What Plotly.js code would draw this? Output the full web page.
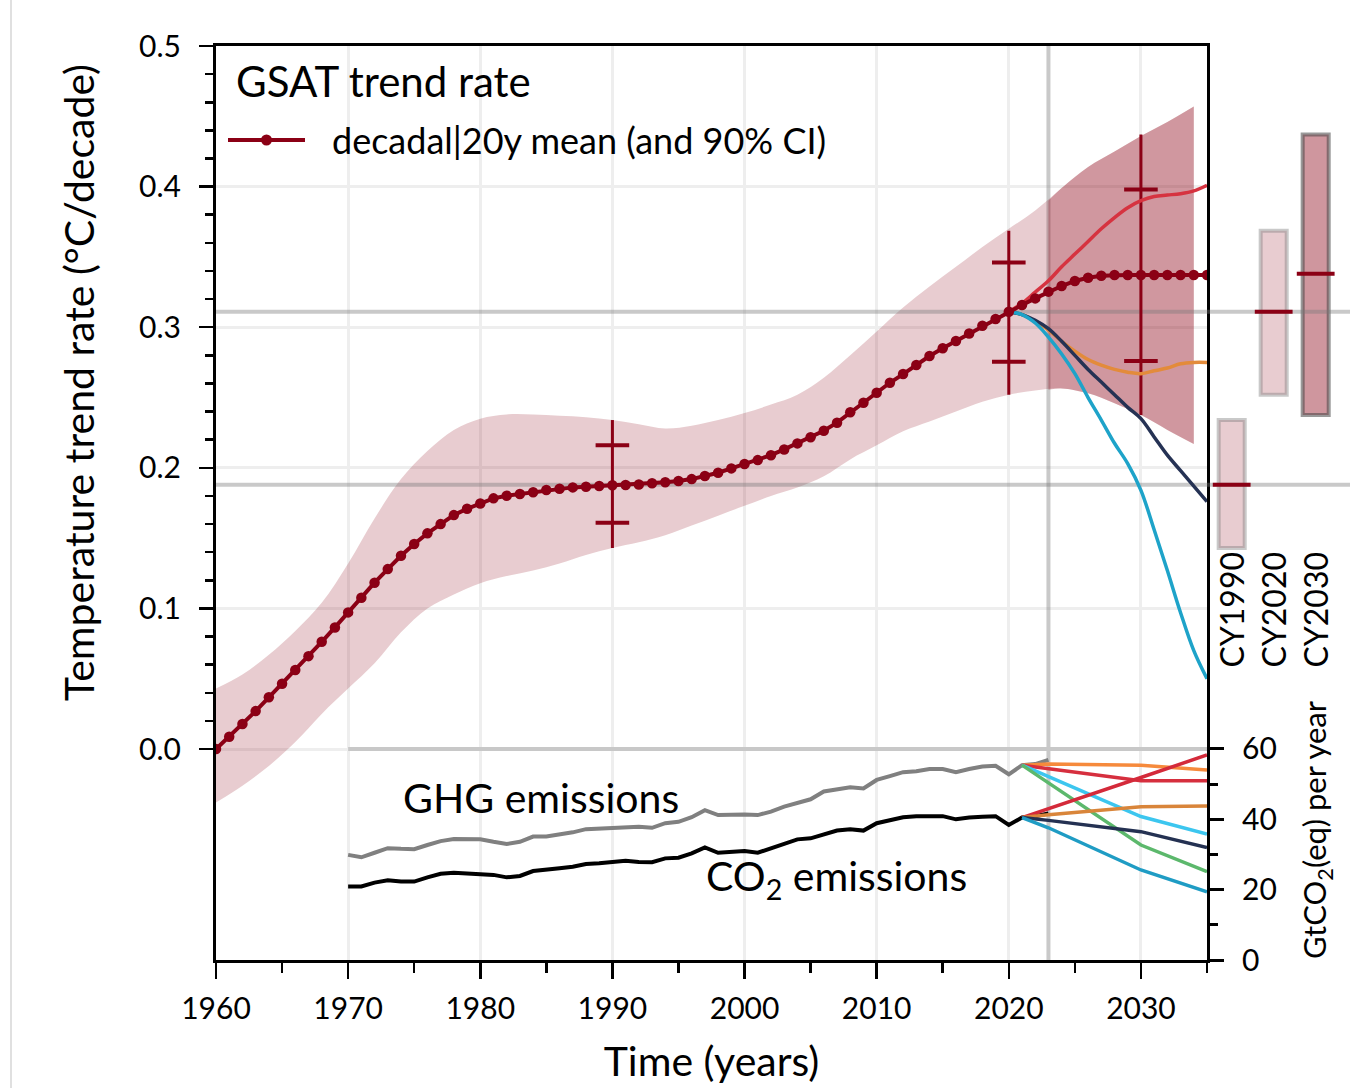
<!DOCTYPE html>
<html><head><meta charset="utf-8">
<script src="https://cdn.plot.ly/plotly-3.0.1.min.js"></script>
<style>html,body{margin:0;padding:0;background:#fff}#chart{width:1350px;height:1088px}</style>
</head><body><div id="chart"></div>
<script>
// ---------- DATA ----------
const meanYears = [1960,1961,1962,1963,1964,1965,1966,1967,1968,1969,1970,1971,1972,1973,1974,1975,1976,1977,1978,1979,
  1980,1981,1982,1983,1984,1985,1986,1987,1988,1989,1990,1991,1992,1993,1994,1995,1996,1997,1998,1999,
  2000,2001,2002,2003,2004,2005,2006,2007,2008,2009,2010,2011,2012,2013,2014,2015,2016,2017,2018,2019,
  2020,2021,2022,2023,2024,2025,2026,2027,2028,2029,2030,2031,2032,2033,2034,2035];
const meanRate = [0.000,0.0088,0.0178,0.0270,0.0368,0.0465,0.0562,0.0661,0.0763,0.0865,0.0972,0.1076,0.1183,0.1280,0.1375,0.1458,0.1534,0.1600,0.1664,0.1709,
  0.1747,0.1783,0.1802,0.1814,0.1826,0.1842,0.1851,0.1861,0.1866,0.1871,0.1876,0.1878,0.1882,0.1890,0.1897,0.1906,0.1920,0.1942,0.1965,0.1996,
  0.2027,0.2055,0.2090,0.2131,0.2174,0.2217,0.2264,0.2321,0.2395,0.2463,0.2534,0.2605,0.2667,0.2731,0.2795,0.2850,0.2902,0.2956,0.3010,0.3058,
  0.3110,0.3158,0.3205,0.3253,0.3293,0.3329,0.3352,0.3366,0.3371,0.3371,0.3371,0.3371,0.3371,0.3371,0.3371,0.3371];

const bandYears = [1960,1962,1964,1966,1968,1970,1972,1974,1976,1978,1980,1982,1984,1986,1988,1990,1992,1994,1996,1998,
  2000,2002,2004,2006,2008,2010,2012,2014,2016,2018,2020,2022,2024,2026,2028,2030,2032,2034];
const bandUpper = [0.043,0.053,0.067,0.084,0.104,0.132,0.164,0.192,0.212,0.227,0.235,0.238,0.238,0.237,0.236,0.234,0.231,0.228,0.230,0.234,
  0.239,0.245,0.252,0.264,0.280,0.297,0.314,0.329,0.343,0.357,0.370,0.383,0.399,0.414,0.425,0.436,0.446,0.457];
const bandLower = [-0.038,-0.026,-0.012,0.005,0.025,0.043,0.061,0.083,0.100,0.110,0.118,0.123,0.127,0.132,0.138,0.143,0.147,0.152,0.159,0.166,
  0.173,0.180,0.186,0.194,0.206,0.216,0.226,0.233,0.240,0.247,0.252,0.255,0.2565,0.253,0.246,0.2375,0.227,0.217];

const projYears = [2023,2024,2026,2028,2030,2032,2034];
const projUpper = [0.390,0.399,0.414,0.425,0.436,0.446,0.457];
const projLower = [0.2555,0.2565,0.253,0.246,0.2375,0.227,0.217];

const ciYears = [1990,2020,2030];
const ciLow = [0.143,0.252,0.2375];
const ciHigh = [0.234,0.3686,0.437];
const capLow = [0.161,0.2755,0.276];
const capHigh = [0.216,0.346,0.398];

const scenYears = [2020,2021,2022,2023,2024,2025,2026,2027,2028,2029,2030,2031,2032,2033,2034,2035];
const scenRed    = [0.311,0.317,0.325,0.333,0.343,0.352,0.361,0.370,0.378,0.385,0.390,0.393,0.394,0.395,0.397,0.401];
const scenOrange = [0.311,0.309,0.304,0.298,0.290,0.283,0.277,0.273,0.270,0.268,0.267,0.269,0.271,0.274,0.275,0.275];
const scenNavy   = [0.311,0.309,0.305,0.299,0.290,0.280,0.270,0.261,0.252,0.243,0.235,0.222,0.209,0.198,0.187,0.176];
const scenCyan   = [0.311,0.309,0.303,0.293,0.281,0.267,0.250,0.234,0.2175,0.203,0.184,0.156,0.127,0.097,0.070,0.050];

const emisYears = [1970,1971,1972,1973,1974,1975,1976,1977,1978,1979,1980,1981,1982,1983,1984,1985,1986,1987,1988,1989,
  1990,1991,1992,1993,1994,1995,1996,1997,1998,1999,2000,2001,2002,2003,2004,2005,2006,2007,2008,2009,
  2010,2011,2012,2013,2014,2015,2016,2017,2018,2019,2020,2021,2022,2023];
const ghgEmis = [29.9,29.2,30.5,31.8,31.6,31.5,32.7,33.8,34.4,34.4,34.3,33.6,33.0,33.6,35.1,35.1,35.7,36.3,37.2,37.4,
  37.7,37.9,37.9,37.6,38.9,39.3,40.6,42.6,41.2,41.3,41.4,41.2,42.2,43.6,44.7,45.7,47.9,48.5,49.1,48.8,
  51.2,52.3,53.4,53.7,54.3,54.3,53.4,54.3,55.0,55.2,52.8,55.4,55.7,56.9];
const co2Emis = [20.9,20.9,22.0,22.7,22.3,22.3,23.5,24.5,24.8,24.6,24.6,24.2,23.5,23.9,25.3,25.6,26.1,26.5,27.3,27.5,
  27.8,28.2,27.9,27.8,28.9,29.1,30.3,32.0,30.5,30.8,31.0,30.5,31.8,33.0,34.3,34.6,35.8,36.8,37.2,36.8,
  38.9,39.8,40.6,40.9,41.0,40.9,40.0,40.5,40.7,40.9,38.4,40.5,40.9,41.7];

const emisScenYears = [2021,2023,2030,2035];
const ghgScenOrange = [55.4,55.7,55.4,54.0];
const ghgScenRed    = [55.4,54.4,51.0,51.0];
const ghgScenSky    = [55.4,52.2,40.8,35.8];
const ghgScenGreen  = [55.4,50.3,32.7,25.1];
const co2ScenRed    = [40.5,43.0,51.9,58.3];
const co2ScenOrange = [40.5,41.3,43.6,43.8];
const co2ScenNavy   = [40.5,39.7,36.5,32.0];
const co2ScenTeal   = [40.5,37.6,25.6,19.4];

const cyLabels = ['CY1990','CY2020','CY2030'];
const cyPos = [0,1,2];
const cyLow = [0.143,0.252,0.2375];
const cyHigh = [0.234,0.3686,0.437];
const cyMid = [0.188,0.311,0.338];

const refLevels = [0.188,0.311];
const projectionStart = 2023;
const emisRefYears = [1970,2035];
const emisRefLevel = 60;

const yTicks = [0,0.1,0.2,0.3,0.4,0.5];
const emisTicks = [0,20,40,60];
const emisMinor = [10,30,50];

// ---------- STYLE ----------
const DARK = '#8b0015';
const XR = [1960,2035], YR = [-0.15,0.5];
const X2R = [-0.588,2.817];
const D = 991/1134;
const E3 = [0,73.93];

const yMinor = [];
for (let i=1;i<25;i++){ if(i%5!==0) yMinor.push(+(i*0.02).toFixed(2)); }

const traces = [];
traces.push({x:[projectionStart,projectionStart], y:YR, mode:'lines', line:{color:'rgba(120,120,120,0.4)', width:4}, hoverinfo:'skip'});
traces.push({x:bandYears, y:bandLower, mode:'lines', line:{width:0, shape:'spline'}, hoverinfo:'skip'});
traces.push({x:bandYears, y:bandUpper, mode:'lines', line:{width:0, shape:'spline'}, fill:'tonexty', fillcolor:'rgba(139,0,19,0.2)', hoverinfo:'skip'});
traces.push({x:projYears, y:projLower, mode:'lines', line:{width:0, shape:'spline'}, hoverinfo:'skip'});
traces.push({x:projYears, y:projUpper, mode:'lines', line:{width:0, shape:'spline'}, fill:'tonexty', fillcolor:'rgba(139,0,19,0.26)', hoverinfo:'skip'});
refLevels.forEach(v=>traces.push({x:XR, y:[v,v], mode:'lines', line:{color:'rgba(120,120,120,0.4)', width:4}, hoverinfo:'skip'}));
const wx=[], wy=[];
ciYears.forEach((yr,i)=>{wx.push(yr,yr,null); wy.push(ciLow[i],ciHigh[i],null);});
traces.push({x:wx, y:wy, mode:'lines', line:{color:DARK, width:3}, hoverinfo:'skip'});
traces.push({x:ciYears.concat(ciYears), y:capLow.concat(capHigh), mode:'markers',
  marker:{symbol:'line-ew', size:24, color:DARK, line:{color:DARK, width:4}}, hoverinfo:'skip'});
[[scenOrange,'#e38b3b'],[scenRed,'#d63340'],[scenNavy,'#253254'],[scenCyan,'#1ea3c9']].forEach(s=>{
  traces.push({x:scenYears, y:s[0], mode:'lines', line:{color:s[1], width:3.5, shape:'spline'}, hoverinfo:'skip'});
});
traces.push({x:meanYears, y:meanRate, mode:'lines+markers', line:{color:DARK, width:4}, marker:{color:DARK, size:10.5}});

traces.push({x:emisRefYears, y:[emisRefLevel,emisRefLevel], yaxis:'y3', mode:'lines', line:{color:'#c8c8c8', width:4}, hoverinfo:'skip'});
traces.push({x:emisYears, y:ghgEmis, yaxis:'y3', mode:'lines', line:{color:'#808080', width:4}});
traces.push({x:emisYears, y:co2Emis, yaxis:'y3', mode:'lines', line:{color:'#000000', width:4}});
[[ghgScenOrange,'#f68a3c'],[ghgScenRed,'#d62f3e'],[ghgScenSky,'#3cc6ef'],[ghgScenGreen,'#5cb86c'],
 [co2ScenRed,'#d42a3a'],[co2ScenOrange,'#d9853a'],[co2ScenNavy,'#243152'],[co2ScenTeal,'#1f9cc4']].forEach(s=>{
  traces.push({x:emisScenYears, y:s[0], yaxis:'y3', mode:'lines', line:{color:s[1], width:3.5}});
});

refLevels.forEach(v=>traces.push({x:X2R, y:[v,v], xaxis:'x2', yaxis:'y2', mode:'lines', line:{color:'rgba(120,120,120,0.4)', width:4}, hoverinfo:'skip'}));
traces.push({type:'bar', x:cyPos, y:cyHigh.map((h,i)=>h-cyLow[i]), base:cyLow, xaxis:'x2', yaxis:'y2', width:0.62,
  marker:{color:['rgba(139,0,19,0.2)','rgba(139,0,19,0.2)','rgba(139,0,19,0.41)'],
          line:{color:['rgba(120,120,120,0.4)','rgba(120,120,120,0.4)','rgba(70,70,70,0.55)'], width:4}}});
traces.push({x:cyPos, y:cyMid, xaxis:'x2', yaxis:'y2', mode:'markers',
  marker:{symbol:'line-ew', size:27, color:DARK, line:{color:DARK, width:4}}});

const px = p => (p-216)/1134;
const py = p => (960-p)/914;

const annotations = [
  {text:'GSAT trend rate', xref:'paper', yref:'paper', x:px(234), y:py(81), xanchor:'left', yanchor:'middle', showarrow:false, font:{size:42}},
  {text:'decadal|20y mean (and 90% CI)', xref:'paper', yref:'paper', x:px(330), y:py(140), xanchor:'left', yanchor:'middle', showarrow:false, font:{size:36}},
  {text:'Temperature trend rate (°C/decade)', xref:'paper', yref:'paper', x:px(78), y:py(383), textangle:-90, xanchor:'center', yanchor:'middle', showarrow:false, font:{size:41}},
  {text:'GHG emissions', xref:'x', yref:'y3', x:1974.0, y:46.1, xanchor:'left', yanchor:'middle', showarrow:false, font:{size:41}},
  {text:'CO<sub>2</sub> emissions', xref:'x', yref:'y3', x:1996.9, y:23.3, xanchor:'left', yanchor:'middle', showarrow:false, font:{size:41}}
];
cyLabels.forEach((t,i)=>annotations.push({text:t, xref:'x2', yref:'y2', x:cyPos[i], y:0.099, textangle:-90, xanchor:'center', yanchor:'middle', showarrow:false, font:{size:32}}));

const shapes = [
  {type:'line', xref:'paper', yref:'paper', x0:px(228), x1:px(305), y0:py(140), y1:py(140), line:{color:DARK, width:4}},
  {type:'circle', xref:'paper', yref:'paper', x0:px(261), x1:px(272), y0:py(145.5), y1:py(134.5), fillcolor:DARK, line:{color:DARK, width:0}},
  {type:'line', xref:'paper', yref:'paper', x0:px(11), x1:px(11), y0:py(1088), y1:py(0), line:{color:'#d6d6d6', width:1.5}}
];

const axBase = {ticks:'outside', tickcolor:'#000', showline:true, linecolor:'#000', linewidth:3, zeroline:false, automargin:false};

const layout = {
  width:1350, height:1088,
  margin:{l:216, r:0, t:46, b:128},
  paper_bgcolor:'#ffffff', plot_bgcolor:'rgba(0,0,0,0)',
  font:{family:'Lato, sans-serif', size:30, color:'#000'},
  showlegend:false,
  xaxis:Object.assign({}, axBase, {domain:[0,D], range:XR, anchor:'y', tickmode:'linear', tick0:1960, dtick:10,
    ticklen:16, tickwidth:2.5, mirror:true, showgrid:true, gridcolor:'#eeeeee', gridwidth:3, ticklabelstandoff:4,
    minor:{tick0:1960, dtick:5, ticks:'outside', ticklen:10, tickwidth:2.5, tickcolor:'#000', showgrid:false},
    tickfont:{size:30}, title:{text:'Time (years)', font:{size:41}, standoff:24}}),
  yaxis:Object.assign({}, axBase, {domain:[0,1], range:YR, anchor:'x', tickmode:'array', tickvals:yTicks, tickformat:'.1f',
    ticklen:14, tickwidth:2.5, mirror:true, showgrid:true, gridcolor:'#eeeeee', gridwidth:3, ticklabelstandoff:12,
    minor:{tickmode:'array', tickvals:yMinor, ticks:'outside', ticklen:8, tickwidth:2.5, tickcolor:'#000', showgrid:false},
    tickfont:{size:30}}),
  yaxis3:{domain:[0,260/914], range:E3, anchor:'x', side:'right', tickmode:'array', tickvals:emisTicks,
    ticks:'outside', ticklen:16, tickwidth:3, tickcolor:'#000', showline:false, showgrid:false, zeroline:false, automargin:false,
    ticklabelstandoff:12,
    minor:{tickmode:'array', tickvals:emisMinor, ticks:'outside', ticklen:10, tickwidth:3, tickcolor:'#000'},
    tickfont:{size:30}, title:{text:'GtCO<sub>2</sub>(eq) per year', font:{size:31}, standoff:28}},
  xaxis2:{domain:[D,1], range:X2R, anchor:'y2', visible:false, fixedrange:true},
  yaxis2:{domain:[0,1], range:YR, anchor:'x2', visible:false, fixedrange:true},
  annotations:annotations,
  shapes:shapes
};

Plotly.newPlot('chart', traces, layout, {displayModeBar:false, staticPlot:true});
</script>
</body></html>
